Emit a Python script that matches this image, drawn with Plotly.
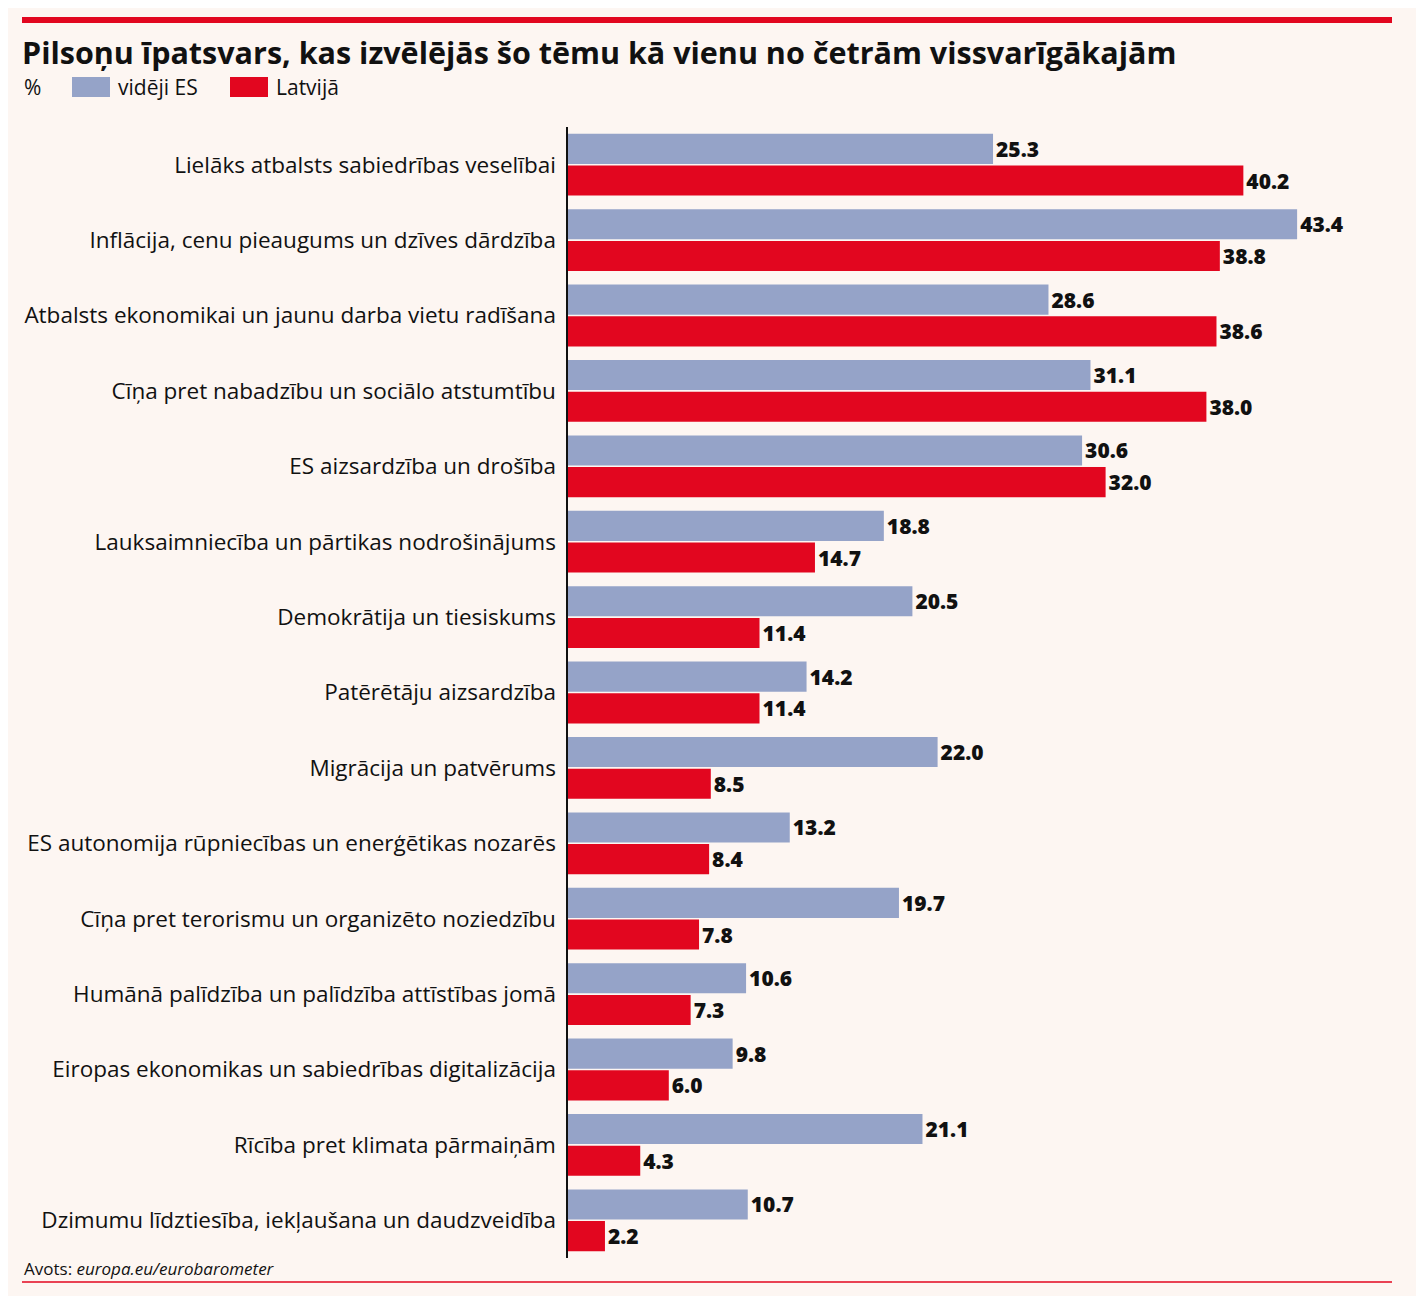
import plotly.graph_objects as go

categories = [
    "Lielāks atbalsts sabiedrības veselībai",
    "Inflācija, cenu pieaugums un dzīves dārdzība",
    "Atbalsts ekonomikai un jaunu darba vietu radīšana",
    "Cīņa pret nabadzību un sociālo atstumtību",
    "ES aizsardzība un drošība",
    "Lauksaimniecība un pārtikas nodrošinājums",
    "Demokrātija un tiesiskums",
    "Patērētāju aizsardzība",
    "Migrācija un patvērums",
    "ES autonomija rūpniecības un enerģētikas nozarēs",
    "Cīņa pret terorismu un organizēto noziedzību",
    "Humānā palīdzība un palīdzība attīstības jomā",
    "Eiropas ekonomikas un sabiedrības digitalizācija",
    "Rīcība pret klimata pārmaiņām",
    "Dzimumu līdztiesība, iekļaušana un daudzveidība",
]
eu_avg = [25.3, 43.4, 28.6, 31.1, 30.6, 18.8, 20.5, 14.2, 22.0, 13.2, 19.7, 10.6, 9.8, 21.1, 10.7]
latvia = [40.2, 38.8, 38.6, 38.0, 32.0, 14.7, 11.4, 11.4, 8.5, 8.4, 7.8, 7.3, 6.0, 4.3, 2.2]

BLUE = "#95a3c8"
RED = "#e2061f"
BG = "#fdf6f2"
FONT = "Open Sans"

OFF = 8  # page margin of the browser
W, H = 1424 - OFF, 1296 - OFF
L, T = 568 - OFF, 127 - OFF
B = 1296 - 1258
R = 8
PW, PH = W - L - R, H - T - B
XMAX = PW / 16.8


def px(x):
    return (x - OFF - L) / PW


def py(y):
    return (H - B - (y - OFF)) / PH


fig = go.Figure()
for name, vals, col in [("vidēji ES", eu_avg, BLUE), ("Latvijā", latvia, RED)]:
    fig.add_trace(go.Bar(
        y=categories, x=vals, name=name, orientation="h", marker_color=col,
        marker_line_width=0, text=[f"{v:.1f}" for v in vals], textposition="outside",
        textfont=dict(family=FONT, size=21, color="#111111", weight=800),
        cliponaxis=False, showlegend=False,
    ))

shapes = [
    dict(type="line", xref="paper", yref="paper", x0=px(22), x1=px(1392), y0=py(20), y1=py(20),
         line=dict(color=RED, width=6)),
    dict(type="line", xref="paper", yref="paper", x0=px(22), x1=px(1392), y0=py(1282), y1=py(1282),
         line=dict(color=RED, width=1.5)),
    dict(type="rect", xref="paper", yref="paper", x0=px(72), x1=px(110), y0=py(97), y1=py(77),
         fillcolor=BLUE, line_width=0),
    dict(type="rect", xref="paper", yref="paper", x0=px(230), x1=px(268), y0=py(97), y1=py(77),
         fillcolor=RED, line_width=0),
]

annotations = [
    dict(text="<b>Pilsoņu īpatsvars, kas izvēlējās šo tēmu kā vienu no četrām vissvarīgākajām</b>",
         x=px(20), y=py(52), font=dict(size=30.5, color="#111111")),
    dict(text="%", x=px(22), y=py(87), font=dict(size=21, color="#111111")),
    dict(text="vidēji ES", x=px(116), y=py(87), font=dict(size=21, color="#111111")),
    dict(text="Latvijā", x=px(274), y=py(87), font=dict(size=21, color="#111111")),
    dict(text="Avots: <i>europa.eu/eurobarometer</i>", x=px(22), y=py(1268),
         font=dict(size=17, color="#111111")),
]
for a in annotations:
    a.update(xref="paper", yref="paper", xanchor="left", yanchor="middle", showarrow=False)

fig.update_layout(
    width=W, height=H, margin=dict(l=L, r=R, t=T, b=B),
    paper_bgcolor=BG, plot_bgcolor=BG, font=dict(family=FONT),
    barmode="group", bargap=0.16, bargroupgap=0.05,
    shapes=shapes, annotations=annotations,
)
fig.update_xaxes(range=[0, XMAX], visible=False)
fig.update_yaxes(autorange="reversed", showline=True, linecolor="#111111", linewidth=1.5,
                 ticks="", ticksuffix=" ", tickfont=dict(size=22.5, color="#111111"),
                 showgrid=False)

fig.write_html("out.html")
